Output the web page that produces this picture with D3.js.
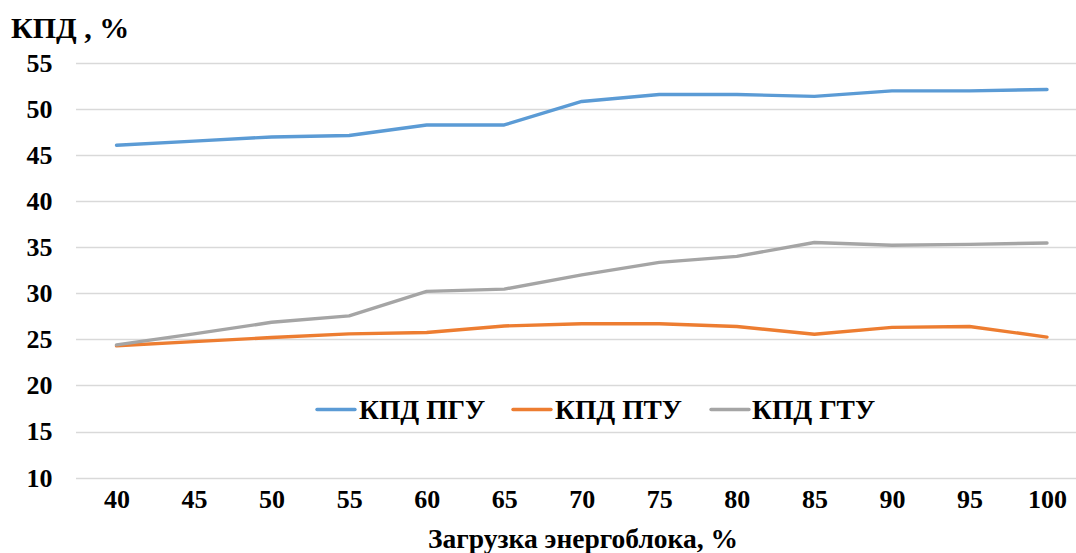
<!DOCTYPE html>
<html>
<head>
<meta charset="utf-8">
<script src="https://cdn.jsdelivr.net/npm/d3@7"></script>
<style>
  html, body { margin: 0; padding: 0; background: #fff; }
  svg { display: block; }
</style>
</head>
<body>
<svg id="chart" width="1076" height="553"></svg>
<script>
// Load of the power unit, %
const loads = [40, 45, 50, 55, 60, 65, 70, 75, 80, 85, 90, 95, 100];
// Efficiency series, %
const kpdPGU = [46.05, 46.5, 46.95, 47.1, 48.25, 48.25, 50.8, 51.55, 51.55, 51.35, 51.95, 51.95, 52.1];
const kpdPTU = [24.3, 24.75, 25.2, 25.6, 25.75, 26.45, 26.7, 26.7, 26.4, 25.55, 26.3, 26.4, 25.25];
const kpdGTU = [24.4, 25.6, 26.85, 27.55, 30.2, 30.45, 32.0, 33.35, 34.0, 35.5, 35.2, 35.3, 35.45];
const yTicks = [10, 15, 20, 25, 30, 35, 40, 45, 50, 55];
const seriesNames = ["КПД ПГУ", "КПД ПТУ", "КПД ГТУ"];
const seriesColors = ["#5B9BD5", "#ED7D31", "#A5A5A5"];

const series = [kpdPGU, kpdPTU, kpdGTU].map((values, i) => ({
  name: seriesNames[i],
  color: seriesColors[i],
  values
}));

const FONT = "Liberation Serif";
const svg = d3.select("#chart");

// apply the serif bold style directly on every text node
function styleText(sel, size) {
  sel.attr("font-family", FONT)
    .attr("font-weight", "bold")
    .attr("font-size", size)
    .attr("fill", "#000");
}

const x = d3.scalePoint().domain(loads).range([116.5, 1047]);
const y = d3.scaleLinear().domain([10, 55]).range([477.7, 62.7]);

const gridLeft = 76, gridRight = 1076;

// horizontal gridlines
svg.append("g")
  .selectAll("line")
  .data(yTicks)
  .join("line")
  .attr("x1", gridLeft).attr("x2", gridRight)
  .attr("y1", d => Math.round(y(d)) + 0.5)
  .attr("y2", d => Math.round(y(d)) + 0.5)
  .attr("stroke", "#D9D9D9")
  .attr("stroke-width", 1.3);

// y axis labels
const yAxis = d3.axisLeft(y).tickValues(yTicks).tickSize(0).tickPadding(0);
svg.append("g")
  .attr("transform", "translate(52.5,0)")
  .call(yAxis)
  .call(g => g.attr("font-family", FONT))
  .call(g => g.select(".domain").remove())
  .call(g => g.selectAll("text").call(styleText, 26));

// x axis labels
const xAxis = d3.axisBottom(x).tickSize(0).tickPadding(0);
svg.append("g")
  .attr("transform", "translate(0,490)")
  .call(xAxis)
  .call(g => g.attr("font-family", FONT))
  .call(g => g.select(".domain").remove())
  .call(g => g.selectAll("text").call(styleText, 26));

// series lines
const line = d3.line()
  .x((d, i) => x(loads[i]))
  .y(d => y(d));

svg.append("g")
  .selectAll("path")
  .data(series)
  .join("path")
  .attr("d", d => line(d.values))
  .attr("fill", "none")
  .attr("stroke", d => d.color)
  .attr("stroke-width", 3.4)
  .attr("stroke-linejoin", "round")
  .attr("stroke-linecap", "round");

// legend
const legendItems = [
  { x: 317, textX: 359 },
  { x: 513, textX: 555 },
  { x: 711, textX: 752 }
];
const legend = svg.append("g");
series.forEach((s, i) => {
  const it = legendItems[i];
  legend.append("line")
    .attr("x1", it.x).attr("x2", it.x + 38)
    .attr("y1", 409.5).attr("y2", 409.5)
    .attr("stroke", s.color)
    .attr("stroke-width", 3.4)
    .attr("stroke-linecap", "round");
  legend.append("text")
    .attr("x", it.textX)
    .attr("y", 418.5)
    .call(styleText, 27.5)
    .text(s.name);
});

// axis titles
svg.append("text")
  .attr("x", 11)
  .attr("y", 38)
  .call(styleText, 30)
  .text("КПД , %");

svg.append("text")
  .attr("x", 583)
  .attr("y", 548)
  .attr("text-anchor", "middle")
  .call(styleText, 27.5)
  .text("Загрузка энергоблока, %");
</script>
</body>
</html>
